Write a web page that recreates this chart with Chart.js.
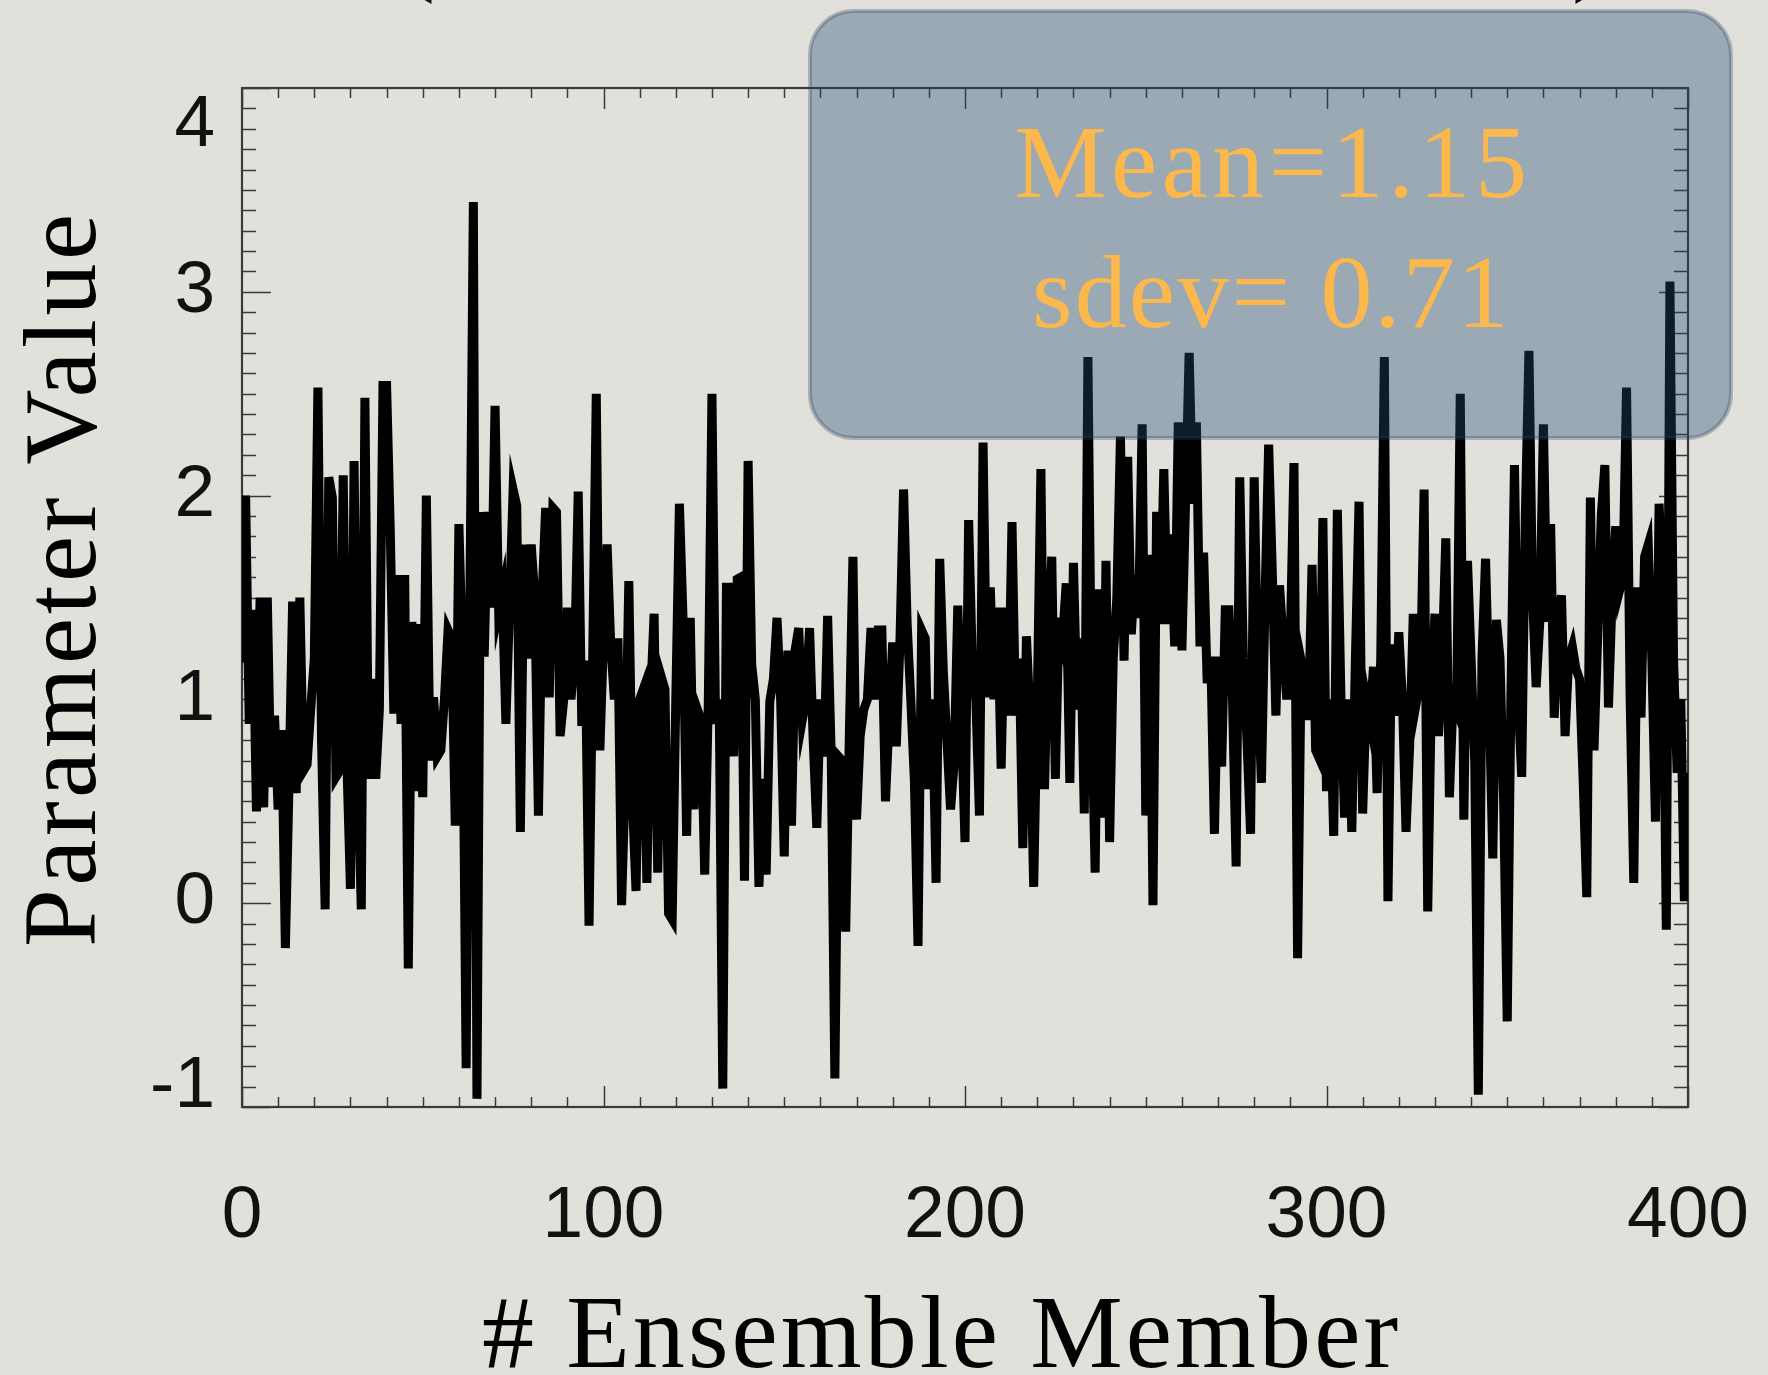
<!DOCTYPE html>
<html>
<head>
<meta charset="utf-8">
<script src="https://cdn.jsdelivr.net/npm/chart.js@4.4.1/dist/chart.umd.min.js"></script>
<style>
  html, body { margin: 0; padding: 0; background: #e2e0db; overflow: hidden; }
  #wrap { width: 1768px; height: 1375px; position: relative; }
  canvas { display: block; }
</style>
</head>
<body>
<div id="wrap"><canvas id="chart" width="1768" height="1375"></canvas></div>
<script>
// Parameter value of each ensemble member, in member order (0 … 400)
const members000to100 = [
  1.18, 2.0, 0.88, 1.44, 0.45, 1.5, 0.47, 1.5, 0.57, 0.92, 0.46, 0.85, -0.22, 0.58, 1.48, 0.54, 1.5, 0.65, 0.68, 0.95, 1.2,
  2.53, 0.8, -0.03, 2.09, 1.99, 0.62, 0.65, 2.1, 0.7, 0.07, 2.17, 0.65, -0.03, 2.48, 0.61, 1.1, 0.61, 0.95, 2.54, 2.54,
  1.84, 0.93, 1.61, 0.88, 1.61, -0.32, 1.38, 0.55, 1.37, 0.52, 2.0, 0.7, 1.01, 0.72, 0.75, 1.0, 1.34, 1.3, 0.38, 1.86,
  1.2, -0.81, 1.4, 3.44, -0.96, 1.92, 1.21, 1.92, 1.45, 2.44, 1.44, 1.53, 0.88, 1.45, 2.03, 1.95, 0.35, 1.76, 1.2, 1.76,
  1.5, 0.43, 1.5, 1.94, 1.01, 1.94, 1.92, 0.82, 1.0, 1.45, 1.0, 1.2, 2.02, 0.87, 1.19, -0.11, 1.19, 2.5, 0.75, 1.3
];
const members101to200 = [
  1.76, 1.27, 1.0, 1.3, -0.01, 0.6, 1.58, 0.5, 0.06, 1.0, 1.05, 0.1, 1.0, 1.42, 0.15, 1.11, 1.05, -0.05, -0.08, 1.0,
  1.96, 1.4, 0.33, 1.4, 0.46, 0.95, 0.9, 0.14, 1.0, 2.5, 0.88, 1.0, -0.91, 1.55, 1.55, 0.72, 1.59, 1.6, 0.11, 2.17,
  1.17, 1.0, 0.08, 0.61, 0.14, 0.99, 1.1, 1.4, 1.0, 0.23, 1.24, 0.38, 1.24, 1.35, 0.9, 1.0, 1.35, 0.8, 0.37, 1.0,
  0.72, 1.41, 0.72, -0.86, 0.72, 0.7, -0.14, 0.82, 1.7, 0.41, 0.82, 0.95, 1.0, 1.35, 1.0, 1.34, 1.34, 0.5, 0.9, 1.28,
  0.77, 1.28, 2.03, 1.37, 1.0, 0.6, -0.21, 1.34, 1.3, 0.56, 1.0, 0.1, 1.69, 1.14, 0.8, 0.46, 0.69, 1.46, 0.9, 0.3
];
const members201to300 = [
  1.88, 1.2, 1.0, 0.43, 2.26, 1.01, 1.55, 1.0, 1.45, 0.66, 1.45, 0.92, 1.87, 0.92, 1.2, 0.27, 1.31, 0.9, 0.08, 1.0,
  2.13, 0.56, 1.3, 1.7, 0.61, 1.4, 1.3, 1.57, 0.59, 1.67, 0.95, 1.3, 0.44, 2.68, 1.0, 0.15, 1.54, 0.42, 1.68, 0.3,
  1.2, 1.5, 2.29, 1.19, 2.19, 1.32, 1.61, 1.4, 2.35, 0.43, 1.71, -0.01, 1.92, 1.37, 2.13, 1.37, 1.81, 1.26, 2.36, 1.24,
  1.96, 2.7, 1.96, 2.36, 1.26, 1.72, 1.08, 1.21, 0.34, 1.21, 0.67, 1.44, 1.44, 1.0, 0.18, 2.09, 1.2, 0.8, 0.34, 2.09,
  1.1, 0.59, 1.5, 2.25, 1.63, 0.92, 1.56, 1.29, 1.0, 1.3, 2.16, -0.27, 1.19, 1.1, 0.9, 1.66, 0.75, 0.71, 1.89, 0.55
];
const members301to400 = [
  1.0, 0.33, 1.93, 1.0, 0.42, 1.0, 0.35, 1.2, 1.97, 0.44, 1.0, 0.9, 1.16, 0.54, 1.2, 2.68, 0.01, 1.27, 0.92, 1.33,
  1.0, 0.35, 0.77, 1.42, 1.0, 1.1, 2.03, -0.04, 1.0, 1.42, 0.82, 1.2, 1.79, 0.52, 1.0, 0.95, 2.5, 0.41, 1.68, 1.2,
  0.7, -0.94, 1.2, 1.69, 1.0, 0.22, 1.39, 1.2, 0.5, -0.58, 1.0, 2.15, 1.0, 0.62, 1.9, 2.71, 1.5, 1.06, 1.38, 2.35,
  1.38, 1.86, 0.91, 1.4, 1.51, 0.82, 1.2, 1.26, 1.15, 1.1, 0.6, 0.03, 1.99, 0.75, 1.3, 1.9, 2.15, 0.96, 1.5, 1.85,
  1.53, 1.6, 2.53, 1.0, 0.1, 1.55, 0.91, 1.7, 1.76, 1.2, 0.4, 1.96, 1.5, -0.13, 3.05, 1.2, 0.64, 1.0, 0.01, 0.64
];

const paramValues = [].concat(members000to100, members101to200, members201to300, members301to400);
const memberNumbers = paramValues.map((_, i) => i);

const xTickValues = [0, 100, 200, 300, 400];
const xTickLabels = ['0', '100', '200', '300', '400'];
const yTickValues = [-1, 0, 1, 2, 3, 4];
const yTickLabels = ['-1', '0', '1', '2', '3', '4'];

const xTitle = '# Ensemble Member';
const yTitle = 'Parameter Value';
const statsLines = ['Mean=1.15', 'sdev= 0.71'];

const SANS = '"Liberation Sans", Arial, Helvetica, sans-serif';
const SERIF = '"Liberation Serif", "Times New Roman", serif';

// draws text centred on (cx, baseline) and tracked out to a given overall width
function drawTracked(ctx, text, cx, baseline, width) {
  const natural = ctx.measureText(text).width;
  ctx.textAlign = 'left';
  ctx.textBaseline = 'alphabetic';
  if ('letterSpacing' in ctx && text.length > 1) {
    const gap = (width - natural) / (text.length - 1);
    ctx.letterSpacing = gap.toFixed(2) + 'px';
    ctx.fillText(text, cx - width / 2, baseline);
    ctx.letterSpacing = '0px';
  } else {
    ctx.fillText(text, cx - natural / 2, baseline);
  }
}

// paper background
const backgroundPlugin = {
  id: 'paper',
  beforeDraw(chart) {
    const { ctx, width, height } = chart;
    ctx.save();
    ctx.fillStyle = '#e2e0db';
    ctx.fillRect(0, 0, width, height);
    // tails of the heading's brackets peeking in at the top edge
    ctx.fillStyle = '#111';
    ctx.font = '108px ' + SERIF;
    ctx.textAlign = 'center';
    ctx.textBaseline = 'alphabetic';
    ctx.fillText('(', 417, -19);
    ctx.fillText(')', 1590, -19);
    ctx.restore();
  }
};

// boxed frame with inward major/minor ticks on all four sides
const framePlugin = {
  id: 'frame',
  beforeDatasetsDraw(chart) {
    const { ctx, chartArea: a, scales: { x, y } } = chart;
    ctx.save();
    ctx.strokeStyle = '#3a3a3a';
    ctx.lineWidth = 1.5;
    ctx.beginPath();
    for (let v = 0; v <= 400; v += 10) {
      const px = Math.round(x.getPixelForValue(v)) + 0.5;
      const len = v % 100 === 0 ? 21 : 10;
      ctx.moveTo(px, a.bottom); ctx.lineTo(px, a.bottom - len);
      ctx.moveTo(px, a.top); ctx.lineTo(px, a.top + len);
    }
    for (let k = -10; k <= 40; k++) {
      const py = Math.round(y.getPixelForValue(k / 10)) + 0.5;
      const len = k % 10 === 0 ? 29 : 14;
      ctx.moveTo(a.left, py); ctx.lineTo(a.left + len, py);
      ctx.moveTo(a.right, py); ctx.lineTo(a.right - len, py);
    }
    ctx.stroke();
    ctx.lineWidth = 2.2;
    ctx.strokeRect(a.left, a.top, a.right - a.left, a.bottom - a.top);
    ctx.restore();
  }
};

// axis titles in a wide book serif
const axisTitlePlugin = {
  id: 'axisTitles',
  afterDraw(chart) {
    const { ctx, chartArea: a } = chart;
    ctx.save();
    ctx.fillStyle = '#000';
    ctx.font = '104px ' + SERIF;
    drawTracked(ctx, xTitle, (a.left + a.right) / 2 - 25, 1367, 916);
    ctx.translate(95, (a.top + a.bottom) / 2 - 17);
    ctx.rotate(-Math.PI / 2);
    drawTracked(ctx, yTitle, 0, 0, 733);
    ctx.restore();
  }
};

// translucent statistics panel over the upper right of the plot
const statsPlugin = {
  id: 'stats',
  afterDraw(chart) {
    const { ctx } = chart;
    const bx = 810, by = 11, bw = 921, bh = 427, r = 44;
    ctx.save();
    ctx.beginPath();
    ctx.roundRect(bx, by, bw, bh, r);
    ctx.fillStyle = 'rgba(32, 76, 114, 0.37)';
    ctx.fill();
    ctx.lineWidth = 4;
    ctx.strokeStyle = 'rgba(40, 62, 88, 0.3)';
    ctx.stroke();
    ctx.fillStyle = '#fcb84a';
    ctx.font = '104px ' + SERIF;
    drawTracked(ctx, statsLines[0], bx + bw / 2, 197, 513);
    drawTracked(ctx, statsLines[1], bx + bw / 2, 327, 477);
    ctx.restore();
  }
};

new Chart(document.getElementById('chart'), {
  type: 'line',
  data: {
    labels: memberNumbers,
    datasets: [{
      data: paramValues,
      borderColor: '#000',
      borderWidth: 9,
      pointRadius: 0,
      pointHoverRadius: 0,
      fill: false,
      tension: 0
    }]
  },
  options: {
    responsive: false,
    devicePixelRatio: 1,
    animation: false,
    events: [],
    layout: { padding: { top: 88, right: 80, left: 0, bottom: 0 } },
    plugins: { legend: { display: false }, tooltip: { enabled: false } },
    scales: {
      x: {
        type: 'linear',
        min: 0,
        max: 400,
        afterFit(scale) {
          scale.height = 268;
          scale.paddingLeft = 0;
          scale.paddingRight = 0;
        },
        afterBuildTicks(scale) { scale.ticks = xTickValues.map(v => ({ value: v })); },
        grid: { display: false, drawTicks: false, tickLength: 0 },
        border: { display: false },
        ticks: {
          autoSkip: false,
          maxRotation: 0,
          padding: 66,
          color: '#111',
          font: { family: SANS, size: 73, lineHeight: 1.2 },
          callback: (v) => xTickLabels[xTickValues.indexOf(v)]
        },
        title: { display: false }
      },
      y: {
        type: 'linear',
        min: -1,
        max: 4,
        afterFit(scale) {
          scale.width = 242;
          scale.paddingTop = 0;
          scale.paddingBottom = 0;
        },
        afterBuildTicks(scale) { scale.ticks = yTickValues.map(v => ({ value: v })); },
        grid: { display: false, drawTicks: false, tickLength: 0 },
        border: { display: false },
        ticks: {
          autoSkip: false,
          padding: 27,
          color: '#111',
          font: (c) => {
            const v = c.tick ? c.tick.value : 0;
            return { family: SANS, size: 73, lineHeight: v === 4 ? 1.05 : (v === -1 ? 0.56 : 1.2) };
          },
          callback: (v) => {
            const label = yTickLabels[yTickValues.indexOf(v)];
            if (v === 4) return ['', label];
            if (v === -1) return [label, ''];
            return label;
          }
        },
        title: { display: false }
      }
    }
  },
  plugins: [backgroundPlugin, framePlugin, axisTitlePlugin, statsPlugin]
});
</script>
</body>
</html>
